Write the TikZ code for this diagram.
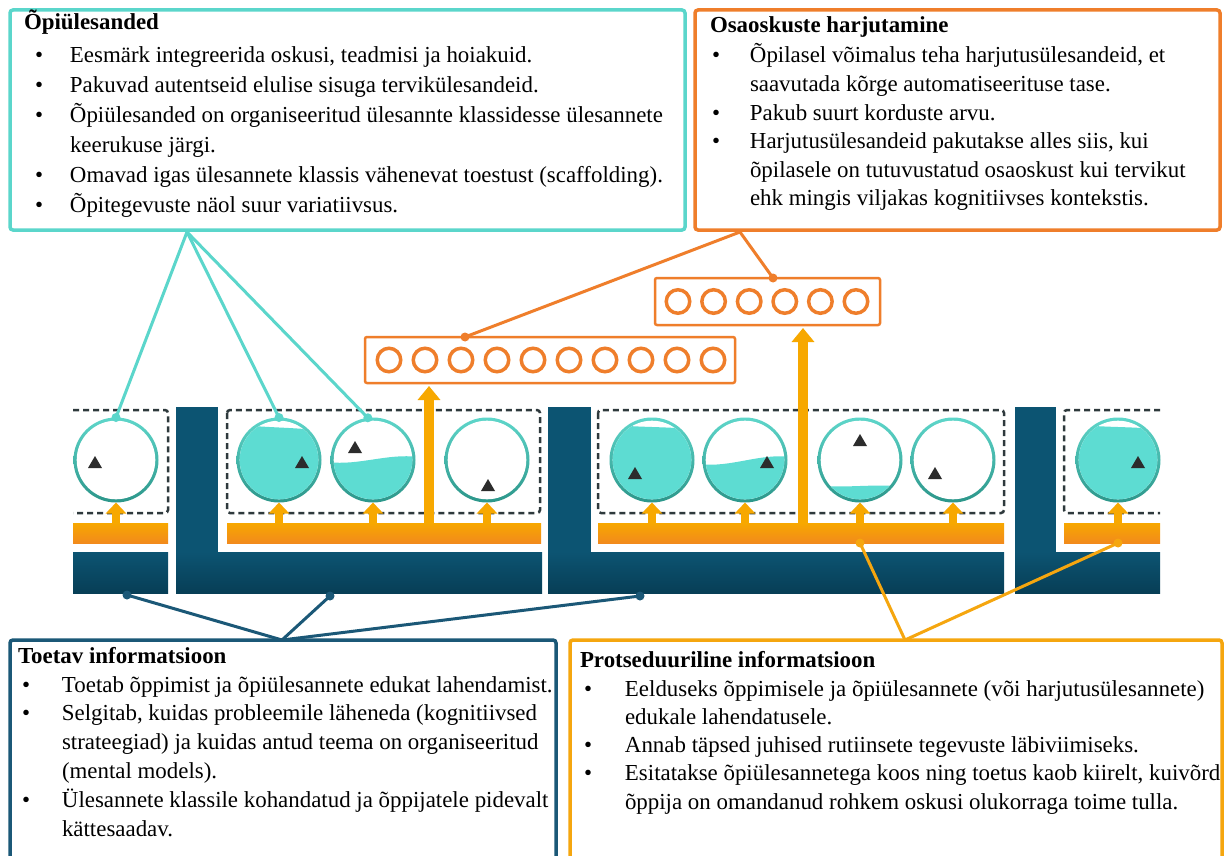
\documentclass[tikz,border=0pt]{standalone}
\usepackage{fontspec}
\setmainfont{Liberation Serif}
\usetikzlibrary{arrows.meta}

\definecolor{tealline}{HTML}{5BD6CB}
\definecolor{tealfill}{HTML}{5DDCD2}
\definecolor{rimtop}{HTML}{5ED6CA}
\definecolor{rimbot}{HTML}{2C968A}
\definecolor{navy}{HTML}{1B5877}
\definecolor{navytop}{HTML}{0C5472}
\definecolor{navybot}{HTML}{073E56}
\definecolor{orangeline}{HTML}{EF7E2B}
\definecolor{amber}{HTML}{F5A60F}
\definecolor{bartop}{HTML}{F7A800}
\definecolor{barbot}{HTML}{F28A1C}
\definecolor{dashgray}{HTML}{2E393C}
\definecolor{tridark}{HTML}{2C2C2C}

% hanging bullet lists
\newlength\bulw
\newcommand\mybullet{\makebox[\bulw][l]{\textbullet}}
\newcommand\mycont{\hspace*{\bulw}}

% rectangle node given by its top-left corner, width and height
\newcommand\panel[6]{\node[#2, anchor=north west, minimum width=#5pt, minimum height=#6pt] (#1) at (#3,#4) {};}

% glass bowl: name, cx, cy, water level left, water level right, marker x, marker y
\newcommand\glass[7]{%
  \node[glassnode] (#1) at (#2,#3) {};
  \shade[top color=rimtop, bottom color=rimbot] (#2,#3) circle[radius=42.5pt];
  \fill[white] (#2,#3) circle[radius=39.3pt];
  \begin{scope}
    \clip (#2,#3) circle[radius=39.3pt];
    \fill[tealfill] (#2-45,#4) .. controls (#2-15,#4+4) and (#2+15,#5-4) .. (#2+45,#5)
      -- (#2+45,#3+50) -- (#2-45,#3+50) -- cycle;
  \end{scope}
  \fill[tridark] (#6-7,#7+6) -- (#6+7,#7+6) -- (#6,#7-6) -- cycle;
}

\begin{document}
\begin{tikzpicture}[x=1pt, y=-1pt,
  infobox/.style={draw, line width=3.5pt, rounded corners=3pt, inner sep=0pt, outer sep=0pt},
  txt/.style={anchor=base west, inner sep=0pt, outer sep=0pt, font=\fontsize{22.9}{30}\selectfont},
  glassnode/.style={circle, minimum size=85pt, inner sep=0pt, outer sep=0pt},
  obar/.style={rectangle, inner sep=0pt, outer sep=0pt, top color=bartop, bottom color=barbot, draw=none},
  nbar/.style={rectangle, inner sep=0pt, outer sep=0pt, top color=navytop, bottom color=navybot, draw=none},
  nflat/.style={rectangle, inner sep=0pt, outer sep=0pt, fill=navytop, draw=none},
  dashbox/.style={draw=dashgray, line width=2.5pt, dash pattern=on 6pt off 4pt, rounded corners=3pt},
  minibox/.style={draw=orangeline, line width=2.5pt, rounded corners=2pt, inner sep=0pt, outer sep=0pt},
  ring/.style={draw=orangeline, line width=3.5pt},
  smallarr/.style={draw=bartop, line width=8pt, -{Triangle[width=20pt,length=11pt]}},
  bigarr/.style={draw=bartop, line width=10pt, -{Triangle[width=22pt,length=14pt]}},
  conn/.style={line width=3pt},
  ]
\useasboundingbox (0,0) rectangle (1227,856);
\fill[white] (0,0) rectangle (1227,856);

% ---------- text panels ----------
\panel{opibox}{infobox, draw=tealline}{10}{10}{675}{220}
\panel{osabox}{infobox, draw=orangeline}{695}{10}{525}{220}
\panel{toebox}{infobox, draw=navy}{10}{640}{546}{240}
\panel{probox}{infobox, draw=amber}{570}{640}{652}{240}

\node[txt] (opihead) at (24,30) {\textbf{Õpiülesanded}};
\node[txt] (opilist) at (35,63) {\parbox[t]{660pt}{\setlength\bulw{35pt}\fontsize{22.9}{30}\selectfont\raggedright
\mybullet Eesmärk integreerida oskusi, teadmisi ja hoiakuid.\\
\mybullet Pakuvad autentseid elulise sisuga tervikülesandeid.\\
\mybullet Õpiülesanded on organiseeritud ülesannte klassidesse ülesannete\\
\mycont keerukuse järgi.\\
\mybullet Omavad igas ülesannete klassis vähenevat toestust (scaffolding).\\
\mybullet Õpitegevuste näol suur variatiivsus.}};

\node[txt] (osahead) at (710,33) {\textbf{Osaoskuste harjutamine}};
\node[txt] (osalist) at (712,63) {\parbox[t]{500pt}{\setlength\bulw{38pt}\fontsize{22.9}{28.6}\selectfont\raggedright
\mybullet Õpilasel võimalus teha harjutusülesandeid, et\\
\mycont saavutada kõrge automatiseerituse tase.\\
\mybullet Pakub suurt korduste arvu.\\
\mybullet Harjutusülesandeid pakutakse alles siis, kui\\
\mycont õpilasele on tutuvustatud osaoskust kui tervikut\\
\mycont ehk mingis viljakas kognitiivses kontekstis.}};

\node[txt] (toehead) at (18,663) {\textbf{Toetav informatsioon}};
\node[txt] (toelist) at (22,692) {\parbox[t]{540pt}{\setlength\bulw{40pt}\fontsize{22.9}{28.8}\selectfont\raggedright
\mybullet Toetab õppimist ja õpiülesannete edukat lahendamist.\\
\mybullet Selgitab, kuidas probleemile läheneda (kognitiivsed\\
\mycont strateegiad) ja kuidas antud teema on organiseeritud\\
\mycont (mental models).\\
\mybullet Ülesannete klassile kohandatud ja õppijatele pidevalt\\
\mycont kättesaadav.}};

\node[txt] (prohead) at (580,667) {\textbf{Protseduuriline informatsioon}};
\node[txt] (prolist) at (584,696) {\parbox[t]{640pt}{\setlength\bulw{41pt}\fontsize{22.9}{28.3}\selectfont\raggedright
\mybullet Eelduseks õppimisele ja õpiülesannete (või harjutusülesannete)\\
\mycont edukale lahendatusele.\\
\mybullet Annab täpsed juhised rutiinsete tegevuste läbiviimiseks.\\
\mybullet Esitatakse õpiülesannetega koos ning toetus kaob kiirelt, kuivõrd\\
\mycont õppija on omandanud rohkem oskusi olukorraga toime tulla.}};

% ---------- practice boxes ----------
\panel{mb1}{minibox}{365}{337}{370}{46}
\panel{mb2}{minibox}{655}{278}{225}{47}
\foreach \i in {0,...,9} \draw[ring] (389+36*\i,360) circle[radius=11.75pt];
\foreach \i in {0,...,5} \draw[ring] (678+35.6*\i,301.5) circle[radius=11.75pt];

% ---------- supportive information (dark bars) ----------
\panel{nb1}{nbar}{73}{552}{95}{41}
\panel{l1v}{nflat}{176}{407}{42}{146}
\panel{l1h}{nbar}{176}{552}{366}{41}
\panel{l2v}{nflat}{548}{407}{43}{146}
\panel{l2h}{nbar}{548}{552}{456}{41}
\panel{l3v}{nflat}{1015}{407}{41}{146}
\panel{l3h}{nbar}{1015}{552}{145}{41}

% ---------- procedural information (orange bars) ----------
\panel{ob1}{obar}{73}{523}{95}{20}
\panel{ob2}{obar}{227}{523}{314}{20}
\panel{ob3}{obar}{598}{523}{406}{20}
\panel{ob4}{obar}{1064}{523}{96}{20}

% ---------- task classes ----------
\draw[dashbox] (73,410) -- (168,410) -- (168,513) -- (73,513);
\draw[dashbox] (227,410) rectangle (540,513);
\draw[dashbox] (598,410) rectangle (1004,513);
\draw[dashbox] (1160,410) -- (1064,410) -- (1064,513) -- (1160,513);

\glass{c1}{116}{460}{600}{600}{95}{462}
\glass{c2}{279}{460}{424}{431}{302}{462}
\glass{c3}{373}{460}{462}{457}{355}{447}
\glass{c4}{487}{460}{600}{600}{488}{485}
\glass{c5}{652}{460}{424}{430}{635}{473}
\glass{c6}{745}{460}{464}{457}{767}{462}
\glass{c7}{860}{460}{485}{487}{860}{440}
\glass{c8}{953}{460}{600}{600}{935}{473}
\glass{c9}{1118}{460}{424}{430}{1138}{462}

% support arrows from the procedural bars
\foreach \c/\b in {c1/ob1, c2/ob2, c3/ob2, c4/ob2, c5/ob3, c6/ob3, c7/ob3, c8/ob3, c9/ob4}
  \draw[smallarr] (\c.south |- \b.north) -- (\c.south);

\coordinate (a1tip) at (429,386);
\coordinate (a2tip) at (803,328);
\draw[bigarr] (a1tip |- ob2.north) -- (a1tip);
\draw[bigarr] (a2tip |- ob3.north) -- (a2tip);

% ---------- callout connectors ----------
\coordinate (opiT) at (187,232);
\coordinate (osaT) at (740,232);
\coordinate (toeT) at (282,640);
\coordinate (proT) at (905,640);
\coordinate (mbdot1) at (465,337);
\coordinate (mbdot2) at (773,278);
\coordinate (nd1) at (127,595);
\coordinate (nd2) at (330,596);
\coordinate (nd3) at (640,596);
\coordinate (od1) at (c7 |- ob3.south);
\coordinate (od2) at (c9 |- ob4.south);

\foreach \c in {c1.north, c2.north, c3.97} {
  \draw[conn, tealline] (opiT) -- (\c);
  \fill[tealline] (\c) circle[radius=4.5pt];
}
\foreach \c in {mbdot1, mbdot2} {
  \draw[conn, orangeline] (osaT) -- (\c);
  \fill[orangeline] (\c) circle[radius=4.5pt];
}
\foreach \c in {nd1, nd2, nd3} {
  \draw[conn, navy] (toeT) -- (\c);
  \fill[navy] (\c) circle[radius=4.5pt];
}
\foreach \c in {od1, od2} {
  \draw[conn, amber] (proT) -- (\c);
  \fill[amber] (\c) circle[radius=4.5pt];
}
\end{tikzpicture}
\end{document}
